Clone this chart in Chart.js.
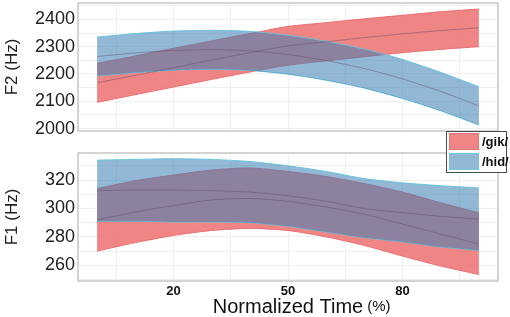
<!DOCTYPE html>
<html>
<head>
<meta charset="utf-8">
<script src="https://cdn.jsdelivr.net/npm/chart.js@4.4.1/dist/chart.umd.min.js"></script>
<style>
  html, body { margin: 0; padding: 0; background: #fff; }
  #wrap { position: relative; width: 510px; height: 317px; overflow: hidden; font-family: "Liberation Sans", Arial, sans-serif; }
  .panel { position: absolute; left: 0; width: 510px; }
  #panel-f2 { top: 0; height: 140px; }
  #panel-f1 { top: 145px; height: 172px; }
  #legend { position: absolute; left: 446px; top: 131px; width: 59px; height: 40px; border: 1.5px solid #4a4a4a; background: #fff; z-index: 5; }
  .key { position: absolute; left: 2px; width: 30px; height: 17px; box-sizing: border-box; }
  .lab { position: absolute; left: 35px; font-weight: bold; font-size: 13px; line-height: 17px; color: #111; }
</style>
</head>
<body>
<div id="wrap">
  <div class="panel" id="panel-f2"><canvas id="chart-f2"></canvas></div>
  <div class="panel" id="panel-f1"><canvas id="chart-f1"></canvas></div>
  <div id="legend">
    <div class="key" style="top:1px;background:rgba(239,133,133,1);border:1px solid #e87878"></div>
    <div class="lab" style="top:1px">/gik/</div>
    <div class="key" style="top:21px;background:#93b8d6;border:1px solid #7cc4dc"></div>
    <div class="lab" style="top:21px">/hid/</div>
  </div>
</div>
<script>
// normalized time (%) sample points
const TIME = [0, 10, 20, 30, 40, 50, 60, 70, 80, 90, 100];

// F2 (Hz), top panel
const GIK_F2_UPPER = [2239, 2266, 2294, 2321, 2348, 2374, 2388, 2402, 2415, 2428, 2438];
const GIK_F2_LOWER = [2096, 2124, 2152, 2180, 2207, 2232, 2248, 2263, 2278, 2290, 2300];
const GIK_F2_MEAN  = [2168, 2195, 2223, 2251, 2278, 2303, 2318, 2333, 2347, 2359, 2369];
const HID_F2_UPPER = [2335, 2348, 2357, 2360, 2356, 2342, 2320, 2291, 2253, 2206, 2153];
const HID_F2_LOWER = [2193, 2205, 2214, 2217, 2213, 2199, 2177, 2148, 2110, 2065, 2013];
const HID_F2_MEAN  = [2264, 2277, 2286, 2289, 2285, 2271, 2249, 2220, 2182, 2136, 2083];

// F1 (Hz), bottom panel
const GIK_F1_UPPER = [314, 319.5, 323.5, 327, 328.5, 326, 322.5, 317.5, 311.5, 304, 297];
const GIK_F1_LOWER = [270, 276, 281, 284.5, 286, 284.5, 280, 274, 266.5, 259.5, 253.5];
const GIK_F1_MEAN  = [292, 297.5, 302, 306, 307, 305, 301, 296, 289, 282, 275];
const HID_F1_UPPER = [334, 334.5, 335, 334.5, 333, 330, 326, 321, 318, 316, 314.5];
const HID_F1_LOWER = [291, 291, 290.5, 290.5, 290, 287.5, 283.5, 279.5, 276.5, 273, 270.5];
const HID_F1_MEAN  = [312.5, 313, 313, 312.5, 311.5, 309, 305, 300, 297, 294.5, 292.5];

// axis ticks (major ones carry labels, minor ones only grid)
const X_GRID = [5, 20, 35, 50, 65, 80, 95];
const X_LABELS = [20, 50, 80];
const F2_GRID = [2000, 2050, 2100, 2150, 2200, 2250, 2300, 2350, 2400, 2450];
const F2_LABELS = [2000, 2100, 2200, 2300, 2400];
const F1_GRID = [250, 260, 270, 280, 290, 300, 310, 320, 330];
const F1_LABELS = [260, 280, 300, 320];

const FONT = '"Liberation Sans", Arial, sans-serif';
const GIK_FILL = 'rgba(236,112,112,0.85)';
const GIK_EDGE = 'rgba(232,100,104,0.9)';
const HID_FILL = 'rgba(59,126,180,0.55)';
const HID_EDGE = 'rgba(100,196,220,0.95)';
const MEAN_LINE = 'rgba(95,75,105,0.45)';
const GRID = '#efefef';

Chart.defaults.font.family = FONT;
Chart.defaults.color = '#222';

const pts = ys => TIME.map((t, i) => ({ x: t, y: ys[i] }));

function bandSets(upper, lower, mean, fill, edge, order) {
  return [
    { data: pts(upper), fill: '+1', backgroundColor: fill, borderColor: edge, order },
    { data: pts(lower), fill: false, borderColor: edge, order },
    { data: pts(mean), fill: false, borderColor: MEAN_LINE, order: 0 },
  ];
}

// no extra room for half labels at the axis ends
function noEdgePad(s) {
  s.paddingLeft = 0; s.paddingRight = 0; s.paddingTop = 0; s.paddingBottom = 0;
}

// grey frame round the plot area
const panelFrame = {
  id: 'panelFrame',
  afterDatasetsDraw(chart) {
    const { ctx, chartArea: a } = chart;
    ctx.save();
    ctx.strokeStyle = '#c6c6c6';
    ctx.lineWidth = 1.5;
    ctx.strokeRect(a.left, a.top, a.right - a.left, a.bottom - a.top);
    ctx.restore();
  }
};

// smaller "(%)" after the x title
const percentSuffix = {
  id: 'percentSuffix',
  afterDraw(chart) {
    const ctx = chart.ctx, sx = chart.scales.x;
    ctx.save();
    ctx.font = '20px ' + FONT;
    const w = ctx.measureText('Normalized Time').width;
    const cx = (sx.left + sx.right) / 2;
    ctx.font = '15px ' + FONT;
    ctx.fillStyle = '#111';
    ctx.textAlign = 'left';
    ctx.textBaseline = 'middle';
    ctx.fillText('(%)', cx + w / 2 + 4, chart.height - 10);
    ctx.restore();
  }
};

function makeChart(id, datasets, yOpts, showX) {
  const xScale = {
    type: 'linear', min: -5, max: 105,
    afterBuildTicks: s => { s.ticks = X_GRID.map(v => ({ value: v })); },
    afterFit: s => { s.height = showX ? 36 : 9; noEdgePad(s); },
    grid: { color: GRID, drawTicks: false },
    border: { display: false },
    ticks: {
      display: showX, padding: 3, color: '#111', maxRotation: 0, autoSkip: false,
      font: { size: 13, weight: 'bold' },
      callback: v => X_LABELS.includes(v) ? String(v) : ''
    },
    title: {
      display: showX, text: 'Normalized Time', color: '#111',
      font: { size: 20, lineHeight: 1.0 }, padding: { top: 0, bottom: 0 }
    }
  };
  return new Chart(document.getElementById(id), {
    type: 'line',
    data: { datasets },
    options: {
      responsive: true,
      maintainAspectRatio: false,
      animation: false,
      events: [],
      layout: { padding: { top: showX ? 8 : 3, right: 12, left: 0, bottom: 0 } },
      elements: { point: { radius: 0 }, line: { borderWidth: 1, tension: 0.25 } },
      plugins: { legend: { display: false }, tooltip: { enabled: false } },
      scales: {
        x: xScale,
        y: {
          min: yOpts.min, max: yOpts.max,
          afterBuildTicks: s => { s.ticks = yOpts.grid.map(v => ({ value: v })); },
          afterFit: s => { s.width = 78; noEdgePad(s); },
          grid: { color: GRID, drawTicks: false },
          border: { display: false },
          ticks: {
            padding: 3, color: '#222', font: { size: 18 }, autoSkip: false,
            callback: v => yOpts.labels.includes(v) ? String(v) : ''
          },
          title: { display: true, text: yOpts.title, color: '#222', font: { size: 17 }, padding: { top: 2, bottom: 0 } }
        }
      }
    },
    plugins: showX ? [panelFrame, percentSuffix] : [panelFrame]
  });
}

makeChart('chart-f2', [
  ...bandSets(GIK_F2_UPPER, GIK_F2_LOWER, GIK_F2_MEAN, GIK_FILL, GIK_EDGE, 2),
  ...bandSets(HID_F2_UPPER, HID_F2_LOWER, HID_F2_MEAN, HID_FILL, HID_EDGE, 1),
], { min: 1991, max: 2460, grid: F2_GRID, labels: F2_LABELS, title: 'F2 (Hz)' }, false);

makeChart('chart-f1', [
  ...bandSets(GIK_F1_UPPER, GIK_F1_LOWER, GIK_F1_MEAN, GIK_FILL, GIK_EDGE, 2),
  ...bandSets(HID_F1_UPPER, HID_F1_LOWER, HID_F1_MEAN, HID_FILL, HID_EDGE, 1),
], { min: 249, max: 339, grid: F1_GRID, labels: F1_LABELS, title: 'F1 (Hz)' }, true);
</script>
</body>
</html>
